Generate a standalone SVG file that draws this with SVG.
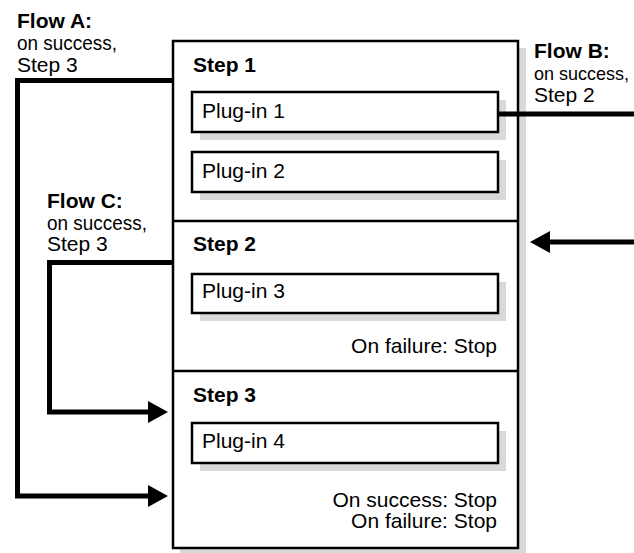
<svg xmlns="http://www.w3.org/2000/svg" width="634" height="553" viewBox="0 0 634 553">
<style>
text{font-family:"Liberation Sans",Arial,Helvetica,sans-serif;font-size:21px;fill:#000}
.b{font-weight:bold}
.r{text-anchor:end}
.box{fill:#fff;stroke:#000;stroke-width:2.5}
.sh{fill:#d9d9d9}
.div{stroke:#000;stroke-width:2.5;fill:none}
.flow{fill:none;stroke:#000;stroke-width:5}
</style>
<defs>
<marker id="ah" viewBox="0 0 20 22" refX="7" refY="11" markerWidth="20" markerHeight="22" markerUnits="userSpaceOnUse" orient="auto">
<path d="M0,0 L20,11 L0,22 Z" fill="#000"/>
</marker>
</defs>
<g id="container">
<rect class="sh" x="180" y="48" width="346" height="508"/>
<rect class="box" x="173" y="41" width="345" height="507"/>
<line class="div" x1="173" y1="221" x2="518" y2="221"/>
<line class="div" x1="173" y1="371" x2="518" y2="371"/>
</g>
<g id="step1">
<text class="b" x="193" y="72">Step 1</text>
</g>
<g id="plugin1">
<rect class="sh" x="200" y="100" width="306" height="40"/>
<rect class="box" x="192" y="92" width="306" height="40"/>
<text x="202" y="118">Plug-in 1</text>
</g>
<g id="plugin2">
<rect class="sh" x="200" y="160" width="306" height="40"/>
<rect class="box" x="192" y="152" width="306" height="40"/>
<text x="202" y="178">Plug-in 2</text>
</g>
<g id="step2">
<text class="b" x="193" y="251">Step 2</text>
<text class="r" x="497" y="353">On failure: Stop</text>
</g>
<g id="plugin3">
<rect class="sh" x="200" y="282" width="306" height="39"/>
<rect class="box" x="192" y="274" width="306" height="39"/>
<text x="202" y="298">Plug-in 3</text>
</g>
<g id="step3">
<text class="b" x="193" y="402">Step 3</text>
<text class="r" x="497" y="507">On success: Stop</text>
<text class="r" x="497" y="528">On failure: Stop</text>
</g>
<g id="plugin4">
<rect class="sh" x="200" y="431" width="306" height="40"/>
<rect class="box" x="192" y="423" width="306" height="40"/>
<text x="202" y="448">Plug-in 4</text>
</g>
<g id="labels">
<text class="b" x="17" y="28">Flow A:</text>
<text x="17" y="50" textLength="100" lengthAdjust="spacingAndGlyphs">on success,</text>
<text x="17" y="72">Step 3</text>
<text class="b" x="534" y="58">Flow B:</text>
<text x="534" y="80" font-size="18.5" textLength="95" lengthAdjust="spacingAndGlyphs" style="font-size:18.5px">on success,</text>
<text x="534" y="102">Step 2</text>
<text class="b" x="47" y="208">Flow C:</text>
<text x="47" y="230" textLength="100" lengthAdjust="spacingAndGlyphs">on success,</text>
<text x="47" y="251">Step 3</text>
</g>
<g id="connectors">
<path class="flow" d="M173,80.5 H17.5 V496 H155" marker-end="url(#ah)"/>
<path class="flow" d="M173,262.5 H49.5 V412 H155" marker-end="url(#ah)"/>
<path class="flow" d="M497,114 H634"/>
<path class="flow" d="M634,242 H543" marker-end="url(#ah)"/>
</g>
</svg>
